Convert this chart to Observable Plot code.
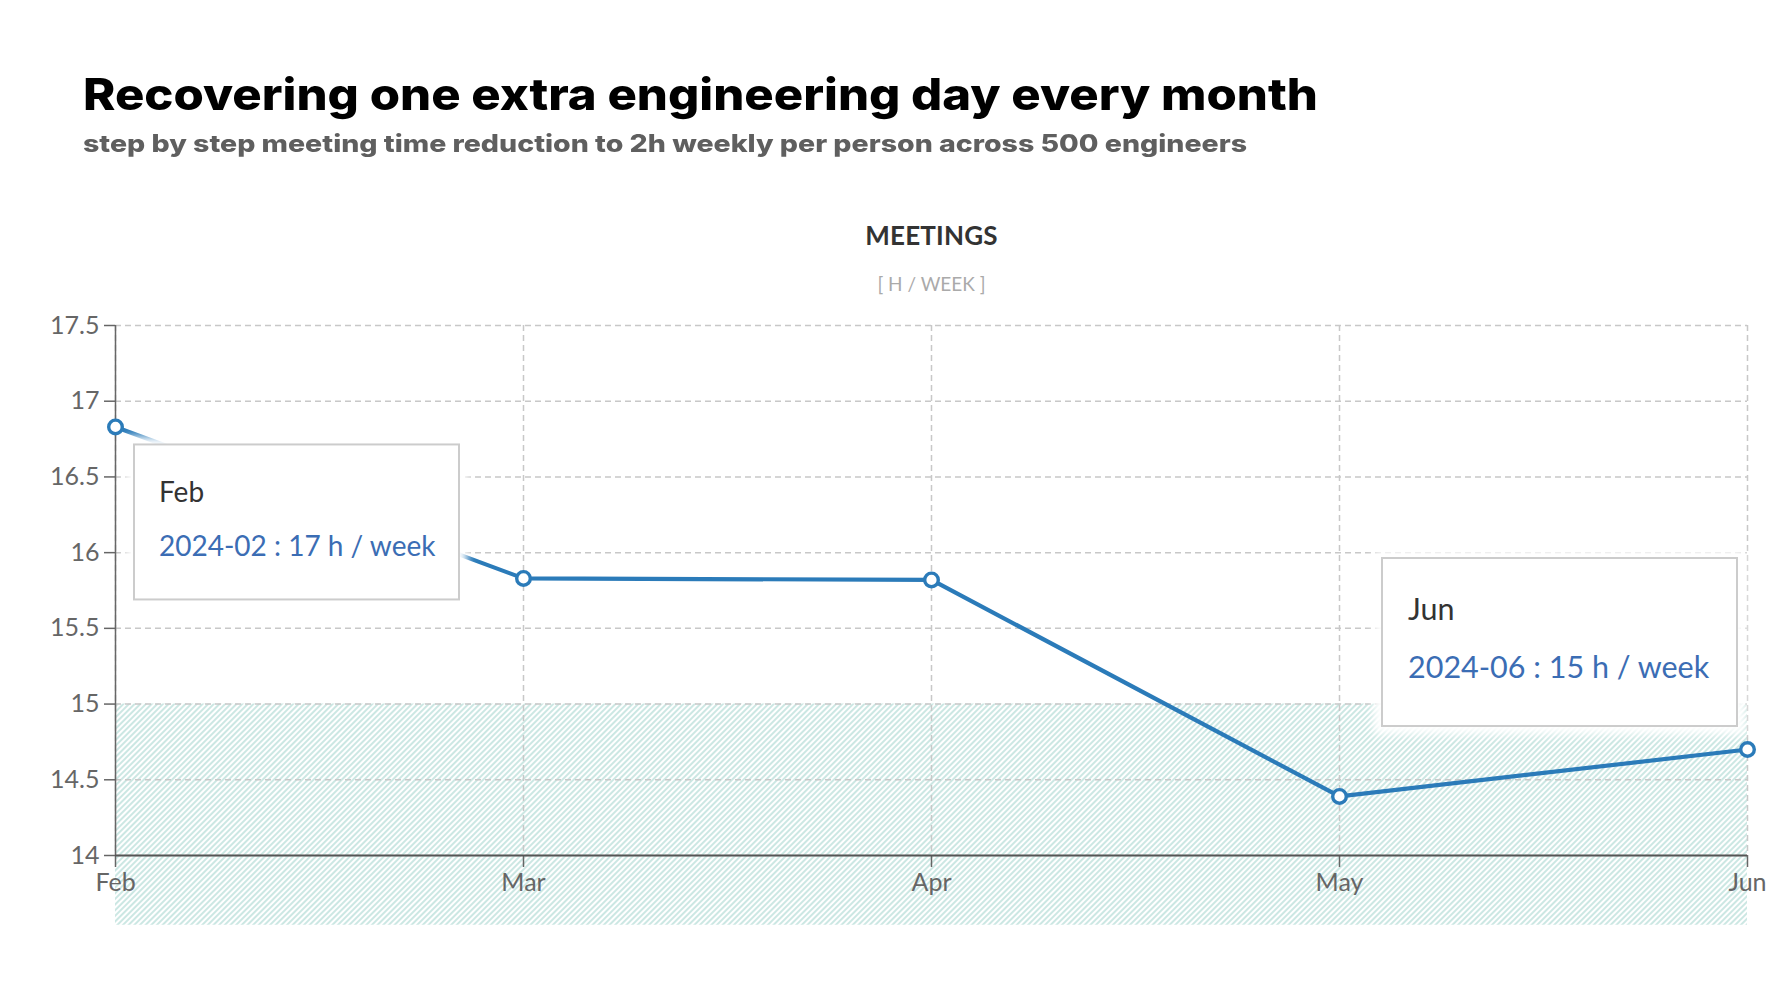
<!DOCTYPE html>
<html>
<head>
<meta charset="utf-8">
<script src="https://cdn.jsdelivr.net/npm/d3@7"></script>
<script src="https://cdn.jsdelivr.net/npm/@observablehq/plot@0.6"></script>
<style>
html, body { margin: 0; padding: 0; background: #fff; }
#page { position: relative; width: 1784px; height: 992px; overflow: hidden; }
#chart { position: absolute; left: 0; top: 0; }
#title { position: absolute; left: 83px; top: 72px; font-family: Inter, sans-serif; font-weight: 800; font-size: 44px; line-height: 1; color: #000; white-space: nowrap; transform-origin: 0 0; }
#subtitle { position: absolute; left: 83px; top: 132px; font-family: Inter, sans-serif; font-weight: 800; font-size: 24px; line-height: 1; color: #5f5f5f; white-space: nowrap; transform-origin: 0 0; }
#ytitle { position: absolute; left: 116px; width: 1631px; top: 222px; text-align: center; font-family: Lato, sans-serif; font-weight: 700; font-size: 26px; line-height: 1; color: #333; letter-spacing: 0.2px; }
#yunit { position: absolute; left: 116px; width: 1631px; top: 274px; text-align: center; font-family: Lato, sans-serif; font-weight: 400; font-size: 19px; line-height: 1; color: #aaa; }
</style>
</head>
<body>
<div id="page">
  <div id="chart"></div>
  <div id="title">Recovering one extra engineering day every month</div>
  <div id="subtitle">step by step meeting time reduction to 2h weekly per person across 500 engineers</div>
  <div id="ytitle">MEETINGS</div>
  <div id="yunit">[ H / WEEK ]</div>
</div>
<script>
// ---- data ----
const months = ["Feb", "Mar", "Apr", "May", "Jun"];
const periods = ["2024-02", "2024-03", "2024-04", "2024-05", "2024-06"];
const meetingHours = [16.83, 15.83, 15.82, 14.39, 14.70];
const yTicks = [14, 14.5, 15, 15.5, 16, 16.5, 17, 17.5];
const yDomain = [14, 17.5];
const targetBand = [13.54, 15];
const tooltipMonths = ["Feb", "Jun"];

const rows = months.map((m, i) => ({ month: m, period: periods[i], hours: meetingHours[i] }));

const lineColor = "#2b7bb9";

// pattern / filter definitions
function defsMark() {
  const defs = d3.create("svg:defs");
  const p = defs.append("pattern")
    .attr("id", "hatch").attr("patternUnits", "userSpaceOnUse")
    .attr("width", 4).attr("height", 4)
    .attr("patternTransform", "rotate(45)");
  p.append("rect").attr("width", 4).attr("height", 4).attr("fill", "#ffffff");
  p.append("line").attr("x1", 1).attr("x2", 1).attr("y1", 0).attr("y2", 4)
    .attr("stroke", "#b0dbd4").attr("stroke-width", 1.3);
  const f = defs.append("filter").attr("id", "tipglow")
    .attr("x", "-20%").attr("y", "-20%").attr("width", "140%").attr("height", "140%");
  f.append("feGaussianBlur").attr("stdDeviation", 4);
  return defs.node();
}

// tooltip boxes, positioned from the data points through the scales
const tipLayout = {
  Feb: { anchor: "top-left", dx: 19, dy: 18, w: 325, h: 155, pad: 25, b1: 58, b2: 112, fs: 28 },
  Jun: { anchor: "bottom-right", dx: -10, dy: -23, w: 355, h: 168, pad: 26, b1: 62, b2: 120, fs: 30.5 }
};
function tooltipMark(index, scales) {
  const g = d3.create("svg:g").attr("text-anchor", "start");
  rows.filter(r => tooltipMonths.includes(r.month)).forEach(r => {
    const s = tipLayout[r.month];
    const px = scales.x(r.month), py = scales.y(r.hours);
    const x0 = s.anchor === "top-left" ? px + s.dx : px + s.dx - s.w;
    const y0 = s.anchor === "top-left" ? py + s.dy : py + s.dy - s.h;
    const t = g.append("g");
    t.append("rect").attr("x", x0 - 8).attr("y", y0 - 8).attr("width", s.w + 16).attr("height", s.h + 16)
      .attr("fill", "#fff").attr("filter", "url(#tipglow)");
    t.append("rect").attr("x", x0).attr("y", y0).attr("width", s.w).attr("height", s.h)
      .attr("fill", "#fff").attr("stroke", "#cccccc").attr("stroke-width", 2);
    t.append("text").attr("x", x0 + s.pad).attr("y", y0 + s.b1).attr("text-anchor", "start")
      .attr("font-family", "Lato, sans-serif").attr("font-size", s.fs).attr("fill", "#333")
      .text(r.month);
    t.append("text").attr("x", x0 + s.pad).attr("y", y0 + s.b2).attr("text-anchor", "start")
      .attr("font-family", "Lato, sans-serif").attr("font-size", s.fs).attr("fill", "#3b6db4")
      .text(`${r.period} : ${Math.round(r.hours)} h / week`);
  });
  return g.node();
}

const chart = Plot.plot({
  width: 1784,
  height: 992,
  marginTop: 325,
  marginBottom: 137,
  marginLeft: 115,
  marginRight: 37,
  style: { fontFamily: "Lato, sans-serif", fontSize: "25px", color: "#666", background: "transparent", overflow: "visible" },
  x: { type: "point", domain: months, padding: 0, axis: null },
  y: { domain: yDomain, axis: null },
  marks: [
    defsMark,
    Plot.areaY(rows, { x: "month", y1: targetBand[0], y2: targetBand[1], fill: "url(#hatch)" }),
    Plot.gridY(yTicks, { stroke: "#c8c8c8", strokeOpacity: 1, strokeWidth: 1.5, strokeDasharray: "6,4" }),
    Plot.gridX(months, { stroke: "#c8c8c8", strokeOpacity: 1, strokeWidth: 1.5, strokeDasharray: "6,4" }),
    Plot.axisY({ ticks: yTicks, tickFormat: d3.format("~g"), tickSize: 11, tickPadding: 5, label: null, strokeWidth: 1.5 }),
    Plot.axisX({ tickSize: 12, tickPadding: 6, label: null, strokeWidth: 1.5 }),
    Plot.ruleX([months[0]], { stroke: "#666", strokeWidth: 1.5 }),
    Plot.ruleY([yDomain[0]], { stroke: "#555", strokeWidth: 2.2 }),
    Plot.line(rows, { x: "month", y: "hours", stroke: lineColor, strokeWidth: 4.2 }),
    Plot.dot(rows, { x: "month", y: "hours", r: 6.8, fill: "#fff", stroke: lineColor, strokeWidth: 3.4 }),
    tooltipMark
  ]
});
document.getElementById("chart").append(chart);

function fitWidth(el, target) {
  el.style.transform = "none";
  const w = el.getBoundingClientRect().width;
  el.style.transform = `scaleX(${target / w})`;
}
function fitAll() {
  fitWidth(document.getElementById("title"), 1235);
  fitWidth(document.getElementById("subtitle"), 1164);
}
fitAll();
if (document.fonts && document.fonts.ready) document.fonts.ready.then(fitAll);
</script>
</body>
</html>
